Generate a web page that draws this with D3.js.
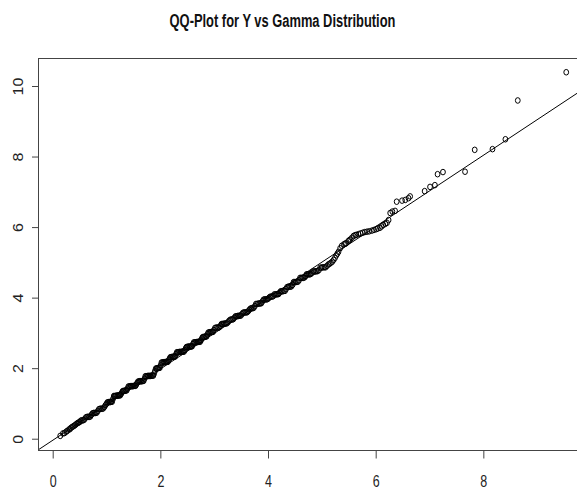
<!DOCTYPE html>
<html>
<head>
<meta charset="utf-8">
<script src="https://cdn.jsdelivr.net/npm/d3@7"></script>
<style>
  html, body { margin: 0; padding: 0; background: #fff; }
  svg { display: block; }
</style>
</head>
<body>
<svg id="chart" width="577" height="492"></svg>
<script>
// Theoretical gamma quantiles (x) and sorted sample values of Y (y)
const theoretical = [
  0.14,0.19,0.22,0.25,0.27,0.30,0.32,0.34,0.36,0.38,0.40,0.42,0.44,0.46,0.48,0.50,
  0.52,0.54,0.56,0.58,0.60,0.62,0.64,0.66,0.68,0.70,0.72,0.74,0.76,0.78,0.80,0.82,0.84,0.86,0.88,0.90,0.92,0.94,0.96,0.98,1.00,
  1.015,1.03,1.045,1.06,1.075,1.09,1.105,1.12,1.135,1.15,1.165,1.18,1.195,1.21,1.225,1.24,1.255,1.27,1.285,1.30,
  1.315,1.33,1.345,1.36,1.375,1.39,1.405,1.42,1.435,1.45,1.465,1.48,1.495,1.51,1.525,1.54,1.555,1.57,1.585,1.60,
  1.615,1.63,1.645,1.66,1.675,1.69,1.705,1.72,1.735,1.75,1.765,1.78,1.795,1.81,1.825,1.84,1.855,1.87,1.885,1.90,
  1.915,1.93,1.945,1.96,1.975,1.99,2.005,2.02,2.035,2.05,2.065,2.08,2.095,2.11,2.125,2.14,2.155,2.17,2.185,2.20,
  2.215,2.23,2.245,2.26,2.275,2.29,2.305,2.32,2.335,2.35,2.365,2.38,2.395,2.41,2.425,2.44,2.455,2.47,2.485,2.50,
  2.515,2.53,2.545,2.56,2.575,2.59,2.605,2.62,2.635,2.65,2.665,2.68,2.695,2.71,2.725,2.74,2.755,2.77,2.785,2.80,
  2.815,2.83,2.845,2.86,2.875,2.89,2.905,2.92,2.935,2.95,2.965,2.98,2.995,
  3.015,3.035,3.055,3.075,3.095,3.115,3.135,3.155,3.175,3.195,3.215,3.235,3.255,3.275,3.295,3.315,3.335,3.355,3.375,3.395,
  3.415,3.435,3.455,3.475,3.495,3.515,3.535,3.555,3.575,3.595,3.615,3.635,3.655,3.675,3.695,3.715,3.735,3.755,3.775,3.795,
  3.815,3.835,3.855,3.875,3.895,3.915,3.935,3.955,3.975,3.995,4.015,4.035,4.055,4.075,4.095,
  4.115,4.135,4.155,4.175,4.195,4.215,4.235,4.255,4.275,4.295,4.315,4.335,4.355,4.375,4.395,4.415,
  4.435,4.455,4.475,4.495,4.515,4.535,4.555,4.575,4.595,4.615,4.635,4.655,4.675,4.695,4.715,4.735,
  4.755,4.775,4.795,4.815,4.835,4.855,4.875,4.895,4.92,4.945,4.97,4.995,5.02,5.045,5.07,5.095,
  5.12,5.145,5.17,5.195,5.22,5.245,5.27,5.29,5.31,
  5.34,5.37,5.41,5.43,5.45,5.49,5.51,5.53,5.56,5.59,5.62,5.64,5.68,5.72,5.76,5.80,5.84,5.88,5.93,5.97,
  6.01,6.04,6.08,6.11,6.14,6.18,6.21,6.24,6.27,6.31,6.36,6.39,6.49,6.55,6.61,6.64,
  6.91,7.01,7.10,7.15,7.25,7.66,7.84,8.17,8.41,8.64,9.54
];
const sample = [
  0.08,0.15,0.16,0.20,0.22,0.26,0.27,0.31,0.33,0.35,0.37,0.39,0.42,0.44,0.46,0.47,
  0.51,0.52,0.52,0.53,0.57, 0.61,0.62,0.62,0.62,0.63,0.68, 0.72,0.73,0.73,0.73,0.74,0.79,
  0.84,0.85,0.85,0.85,0.86,0.90,0.95,0.99,
  1.03,1.03,1.04,1.04,1.04,1.05,1.05,1.13,
  1.21,1.21,1.21,1.22,1.22,1.22,1.23,1.23,1.23,1.27,1.31,
  1.35,1.35,1.36,1.36,1.37,1.37,1.42,
  1.48,1.48,1.48,1.49,1.49,1.49,1.49,1.50,1.50,1.50,1.54,1.58,
  1.62,1.62,1.63,1.63,1.63,1.63,1.64,1.64,1.70,
  1.77,1.77,1.77,1.78,1.78,1.78,1.78,1.78,1.79,1.79,1.79,1.85,1.92,
  1.99,1.99,2.00,2.00,2.01,2.01,2.08,
  2.16,2.16,2.16,2.17,2.17,2.17,2.18,2.18,2.18,2.22,2.27,
  2.31,2.31,2.32,2.32,2.32,2.33,2.33,2.39,
  2.45,2.45,2.45,2.46,2.46,2.46,2.46,2.47,2.47,2.47,2.51,2.56,
  2.60,2.60,2.61,2.61,2.61,2.61,2.62,2.62,2.68,
  2.73,2.73,2.73,2.74,2.74,2.74,2.75,2.75,2.75,2.79,2.84,
  2.88,2.88,2.89,2.89,2.90,2.90,2.96,
  3.01,3.01,3.02,3.02,3.02,3.03,3.03,3.08,
  3.14,3.15,3.15,3.15,3.16,3.20, 3.25,3.25,3.26,3.26,3.27,3.27,3.30,3.34,
  3.37,3.38,3.38,3.39,3.43, 3.47,3.47,3.48,3.48,3.49,3.49,3.53,
  3.57,3.58,3.58,3.58,3.59,3.62,3.66, 3.69,3.70,3.70,3.71,3.76,
  3.82,3.82,3.83,3.83,3.84,3.84,3.89, 3.94,3.95,3.95,3.95,3.96,3.99,
  4.02,4.03,4.03,4.04,
  4.09,4.09,4.09,4.10,4.10,4.14,4.18,4.18,4.18,4.19,4.19,4.24,4.30,4.31,4.31,4.31,
  4.32,4.36,4.44,4.44,4.44,4.45,4.45,4.49,4.56,4.56,4.56,4.56,4.57,4.60,4.66,4.66,
  4.66,4.66,4.67,4.70,4.74,4.74,4.74,4.75,4.75,4.78,4.85,4.85,4.86,4.86,4.86,4.90,
  4.94,4.96,4.99,5.02,5.07,5.13,5.20,5.25,5.30,
  5.40,5.47,5.51,5.53,5.54,5.60,5.63,5.65,5.70,5.75,5.77,5.78,5.80,5.82,5.84,5.86,5.87,5.88,5.90,5.92,
  5.94,5.96,5.98,6.02,6.06,6.09,6.12,6.20,6.40,6.44,6.46,6.72,6.75,6.77,6.82,6.87,
  7.02,7.14,7.19,7.50,7.56,7.57,8.19,8.21,8.49,9.59,10.39
];

// Reference line through the quartiles: y = intercept + slope * x
const refIntercept = -0.045;
const refSlope = 1.01;

const xTickValues = [0, 2, 4, 6, 8];
const yTickValues = [0, 2, 4, 6, 8, 10];
const titleText = "QQ-Plot for Y vs Gamma Distribution";

const svg = d3.select("#chart");
const FONT = "'Liberation Sans', Arial, Helvetica, sans-serif";
const INK = "#222";

// plot region (right edge runs past the window)
const plotLeft = 38, plotRight = 588.3, plotTop = 58, plotBottom = 450;

const x = d3.scaleLinear().domain([-0.273, 9.95]).range([plotLeft, plotRight]);
const y = d3.scaleLinear().domain([-0.32, 10.794]).range([plotBottom, plotTop]);

svg.append("defs").append("clipPath").attr("id", "plotClip")
  .append("rect")
  .attr("x", plotLeft).attr("y", plotTop)
  .attr("width", plotRight - plotLeft).attr("height", plotBottom - plotTop);

// Title
const title = svg.append("text")
  .text(titleText)
  .attr("font-family", FONT)
  .attr("font-weight", "bold")
  .attr("font-size", 17.5)
  .attr("fill", "#111")
  .attr("text-anchor", "middle");
const tw = title.node().getComputedTextLength();
title.attr("transform", `translate(282.5,26.8) scale(${226 / tw},1)`);

// Points (open symbols, slightly narrower than tall)
const pts = d3.range(Math.min(theoretical.length, sample.length))
  .map(i => ({ t: theoretical[i], s: sample[i] }));

svg.append("g")
  .attr("clip-path", "url(#plotClip)")
  .selectAll("ellipse")
  .data(pts)
  .join("ellipse")
  .attr("cx", d => x(d.t))
  .attr("cy", d => y(d.s))
  .attr("rx", 2.4)
  .attr("ry", 2.8)
  .attr("fill", "none")
  .attr("stroke", "#000")
  .attr("stroke-width", 1);

// Reference line
const [dx0, dx1] = x.domain();
svg.append("line")
  .attr("clip-path", "url(#plotClip)")
  .attr("x1", x(dx0)).attr("y1", y(refIntercept + refSlope * dx0))
  .attr("x2", x(dx1)).attr("y2", y(refIntercept + refSlope * dx1))
  .attr("stroke", "#000")
  .attr("stroke-width", 1);

// Plot frame
svg.append("rect")
  .attr("x", plotLeft + 0.5).attr("y", plotTop + 0.5)
  .attr("width", plotRight - plotLeft).attr("height", plotBottom - plotTop)
  .attr("fill", "none")
  .attr("stroke", "#444")
  .attr("stroke-width", 1);

// X axis
const gx = svg.append("g")
  .attr("transform", `translate(0,${plotBottom + 0.5})`)
  .call(d3.axisBottom(x).tickValues(xTickValues).tickSize(8).tickFormat(d3.format("d")));
gx.select(".domain").remove();
gx.selectAll(".tick line").attr("stroke", "#444");
gx.selectAll(".tick text")
  .attr("y", null).attr("dy", null)
  .attr("transform", "translate(0,36.8) scale(0.78,1)")
  .attr("font-family", FONT).attr("font-size", 16).attr("fill", INK)
  .attr("text-anchor", "middle");

// Y axis
const gy = svg.append("g")
  .attr("transform", `translate(${plotLeft + 0.5},0)`)
  .call(d3.axisLeft(y).tickValues(yTickValues).tickSize(6.5).tickFormat(d3.format("d")));
gy.select(".domain").remove();
gy.selectAll(".tick line").attr("stroke", "#444");
gy.selectAll(".tick text")
  .attr("x", null).attr("dy", null)
  .attr("transform", "translate(-15.2,0) rotate(-90) scale(1,0.87)")
  .attr("font-family", FONT).attr("font-size", 16).attr("fill", INK)
  .attr("text-anchor", "middle");
</script>
</body>
</html>
